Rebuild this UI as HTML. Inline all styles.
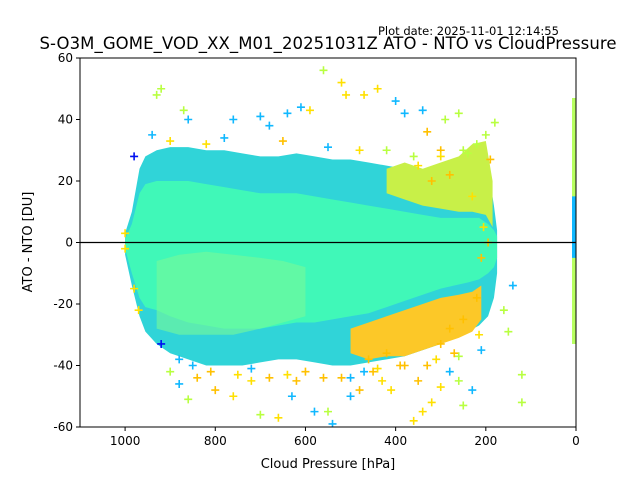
<!DOCTYPE html>
<html><head><meta charset="utf-8"><style>
body{margin:0;background:#fff;}
svg{display:block;font-family:"DejaVu Sans","Liberation Sans",sans-serif;}
</style></head><body>
<svg id="chart" width="640" height="480">
<text x="378" y="35" font-size="11.5">Plot date: 2025-11-01 12:14:55</text>
<text x="328" y="49" font-size="16.5" text-anchor="middle" textLength="577">S-O3M_GOME_VOD_XX_M01_20251031Z ATO - NTO vs CloudPressure</text>
<defs><clipPath id="clip"><rect x="80" y="58" width="496" height="369"/></clipPath></defs>
<g id="plot" clip-path="url(#clip)"></g>
<g id="axes"></g>
<text x="328" y="468" font-size="13" text-anchor="middle">Cloud Pressure [hPa]</text>
<text transform="translate(32,242) rotate(-90)" font-size="13" text-anchor="middle">ATO - NTO [DU]</text>
</svg>
<script>
const xTicks=[1000,800,600,400,200,0];
const yTicks=[60,40,20,0,-20,-40,-60];
const envP=[1000,985,968,955,930,900,860,820,780,740,700,660,620,580,540,500,460,420,380,340,300,270,240,215,195,182,175];
const envUp=[3,10,24,28,30,31,31,30,30,29,28,28,29,28,27,27,26,25,24,23,22,23,25,28,24,12,4];
const envLo=[-4,-14,-24,-29,-33,-36,-38,-40,-40,-40,-39,-38,-38,-39,-40,-40,-39,-38,-37,-35,-33,-31,-29,-27,-24,-18,-10];
const midUp=[1,6,16,19,20,20,20,19,18,17,16,16,16,15,14,13,12,11,10,9,8,8,8,8,6,4,2];
const midLo=[-2,-10,-18,-21,-22,-24,-26,-27,-28,-28,-28,-27,-26,-26,-25,-24,-23,-21,-19,-17,-15,-14,-13,-12,-10,-8,-5];
const patchP=[930,880,820,760,700,650,600];
const patchUp=[-6,-4,-3,-4,-5,-6,-8];
const patchLo=[-28,-30,-30,-30,-28,-26,-24];
const ygP=[420,380,340,300,260,230,200,185];
const ygUp=[24,26,24,26,28,32,33,20];
const ygLo=[16,14,12,11,10,10,9,5];
const orP=[500,460,420,380,340,300,260,230,210];
const orUp=[-28,-26,-24,-22,-20,-18,-17,-16,-14];
const orLo=[-36,-38,-37,-37,-35,-33,-31,-29,-25];
const outP=[920,930,870,860,980,940,760,680,640,560,520,510,470,440,400,380,340,290,260,180,590,610,700,330,300,200,140,150,120,120,160,210,230,250,300,320,340,360,410,430,480,500,540,550,580,630,660,700,760,800,860,880,900,920,970,980,1000,1000,720,450,380,350,280,260,620,680,840,520,460,420,300,280,250,220,210,195,205,230,280,320,350,300,250,220,900,820,780,650,550,480,420,360,240,190,850,750,600,500,440,330,260,215,880,810,720,640,560,470,390,310,270];
const outV=[50,48,43,40,28,35,40,38,42,56,52,48,48,50,46,42,43,40,42,39,43,44,41,36,30,35,-14,-29,-43,-52,-22,-35,-48,-53,-47,-52,-55,-58,-48,-45,-48,-50,-59,-55,-55,-50,-57,-56,-50,-48,-51,-46,-42,-33,-22,-15,-2,3,-45,-42,-40,-45,-42,-45,-45,-44,-44,-44,-38,-36,-33,-28,-25,-18,-5,0,5,15,22,20,25,28,30,32,33,32,34,33,31,30,30,28,29,27,-40,-43,-42,-44,-41,-40,-37,-30,-38,-42,-41,-43,-44,-42,-40,-38,-36];
const outC=[3,3,3,1,2,1,1,1,1,3,4,4,4,4,1,1,1,3,3,3,4,1,1,5,5,3,1,3,3,3,3,1,1,3,4,4,4,4,4,4,5,1,1,3,1,1,4,3,4,5,3,1,3,2,4,4,4,4,4,5,5,5,1,3,5,5,5,5,5,5,5,5,5,5,5,5,4,4,5,5,4,4,3,3,4,4,1,5,1,4,3,3,3,5,1,4,5,1,4,5,3,4,1,5,1,4,5,1,5,4,5];
const palette=['#40f8b8','#10b8ff','#0010f0','#b8ff40','#ffe000','#ffc000'];
const colLo=[-33,-5];const colHi=[47,15];

const X0=80,X1=576,Y0=58,Y1=427;
function xs(p){return X0+(1100-p)/1100*(X1-X0);}
function ys(v){return Y0+(60-v)/120*(Y1-Y0);}
const NS='http://www.w3.org/2000/svg';
const plot=document.getElementById('plot'),axes=document.getElementById('axes');
function mk(t,a,par){const e=document.createElementNS(NS,t);for(const k in a)e.setAttribute(k,a[k]);par.appendChild(e);return e;}
function band(P,U,L,fill,name,op){
  let d='M'+P.map((p,i)=>xs(p)+','+ys(U[i])).join('L');
  for(let i=P.length-1;i>=0;i--)d+='L'+xs(P[i])+','+ys(L[i]);
  const e=mk('path',{d:d+'Z',fill:fill,opacity:op||1},plot);
  
  
}
band(envP,envUp,envLo,'#30d4d8','outer-cloud');
band(envP,midUp,midLo,'#40f8b8','inner-cloud');
band(patchP,patchUp,patchLo,'#78fa98','green-patch',0.6);
band(ygP,ygUp,ygLo,'#c8f048','yellow-green-region');
band(orP,orUp,orLo,'#fcc828','orange-region');
for(let i=0;i<outP.length;i++){
  const x=xs(outP[i]),y=ys(outV[i]);
  const e=mk('path',{d:`M${x-4},${y}H${x+4}M${x},${y-4}V${y+4}`,stroke:palette[outC[i]],'stroke-width':1.6},plot);
  
  
}
for(let i=0;i<colLo.length;i++){
  const e=mk('rect',{x:X1-4,y:ys(colHi[i]),width:4,height:ys(colLo[i])-ys(colHi[i]),fill:i?'#10b8ff':'#b8ff60'},plot);
  
  
}
const zl=mk('line',{x1:X0,x2:X1,y1:ys(0),y2:ys(0),stroke:'#000','stroke-width':1.2},plot);


const fr=mk('rect',{x:X0,y:Y0,width:X1-X0,height:Y1-Y0,fill:'none',stroke:'#000','stroke-width':1},axes);


xTicks.forEach(t=>{
  const x=xs(t);
  mk('line',{x1:x,x2:x,y1:Y1,y2:Y1+4,stroke:'#000'},axes);
  const e=mk('text',{x:x,y:Y1+18,'font-size':12,'text-anchor':'middle'},axes);e.textContent=t;
  
  
});
yTicks.forEach(t=>{
  const y=ys(t);
  mk('line',{x1:X0-4,x2:X0,y1:y,y2:y,stroke:'#000'},axes);
  const e=mk('text',{x:X0-7,y:y+4,'font-size':12,'text-anchor':'end'},axes);e.textContent=t;
  
  
});
</script>
</body></html>
